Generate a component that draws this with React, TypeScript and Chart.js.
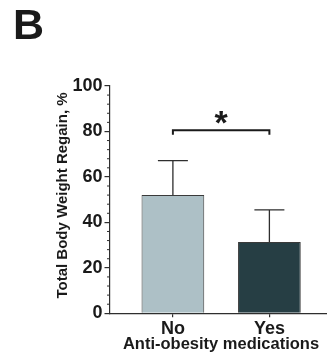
import React, { useEffect, useRef } from 'react';
import { Chart, registerables } from 'chart.js';

Chart.register(...registerables);

const panelLabel = 'B';
const categories = ['No', 'Yes'];
const meanRegain = [52.1, 31.4];
const sdUpper = [15.1, 14.1];
const barColors = ['#adc0c6', '#263e44'];
const yMajorTicks = [0, 20, 40, 60, 80, 100];
const yMinorStep = 4;
const bracketValue = 80.5;
const bracketLabel = '*';
const xTitle = 'Anti-obesity medications';
const yTitle = 'Total Body Weight Regain, %';

const W = 327;
const H = 362;
const FONT = '"Liberation Sans", Arial, sans-serif';
const INK = '#1a1a1a';
const AXIS = '#2e2e2e';

const decorPlugin = {
  id: 'decor',
  afterDatasetsDraw(chart: any) {
    const ctx = chart.ctx as CanvasRenderingContext2D;
    const xs = chart.scales.x;
    const ys = chart.scales.y;
    const area = chart.chartArea;
    ctx.save();

    // error bars (upper only)
    ctx.strokeStyle = AXIS;
    ctx.lineWidth = 1.3;
    meanRegain.forEach((m, i) => {
      const px = xs.getPixelForValue(i);
      const y0 = ys.getPixelForValue(m);
      const y1 = ys.getPixelForValue(m + sdUpper[i]);
      ctx.beginPath();
      ctx.moveTo(px, y0);
      ctx.lineTo(px, y1);
      ctx.moveTo(px - 15, y1);
      ctx.lineTo(px + 15, y1);
      ctx.stroke();
    });

    // minor y ticks
    ctx.lineWidth = 1;
    for (let v = 0; v <= 100; v += yMinorStep) {
      if (v % 20 === 0) continue;
      const py = ys.getPixelForValue(v);
      ctx.beginPath();
      ctx.moveTo(area.left - 2.5, py);
      ctx.lineTo(area.left, py);
      ctx.stroke();
    }

    // significance bracket
    const bx0 = xs.getPixelForValue(0);
    const bx1 = xs.getPixelForValue(1);
    const by = ys.getPixelForValue(bracketValue);
    const drop = 4.5;
    ctx.strokeStyle = INK;
    ctx.lineWidth = 2;
    ctx.beginPath();
    ctx.moveTo(bx0, by + drop);
    ctx.lineTo(bx0, by);
    ctx.lineTo(bx1, by);
    ctx.lineTo(bx1, by + drop);
    ctx.stroke();

    ctx.fillStyle = INK;
    ctx.font = `bold 34px ${FONT}`;
    ctx.textAlign = 'center';
    ctx.textBaseline = 'alphabetic';
    const m = ctx.measureText(bracketLabel);
    const cy = by - 12.5;
    const base = cy + (m.actualBoundingBoxAscent - m.actualBoundingBoxDescent) / 2;
    ctx.fillText(bracketLabel, (bx0 + bx1) / 2, base);

    // axis titles
    ctx.textBaseline = 'middle';
    ctx.font = `bold 16.5px ${FONT}`;
    ctx.fillText(xTitle, 221, 344);

    ctx.save();
    ctx.translate(63.3, 195.5);
    ctx.rotate(-Math.PI / 2);
    ctx.font = `bold 15px ${FONT}`;
    ctx.fillText(yTitle, 0, 0);
    ctx.restore();

    // panel label
    ctx.textBaseline = 'alphabetic';
    ctx.font = `bold 43px ${FONT}`;
    ctx.textAlign = 'left';
    const pm = ctx.measureText(panelLabel);
    ctx.fillText(panelLabel, 15 + pm.actualBoundingBoxLeft, 10 + pm.actualBoundingBoxAscent);

    ctx.restore();
  },
};

export default function App() {
  const ref = useRef<HTMLCanvasElement | null>(null);

  useEffect(() => {
    if (!ref.current) return;
    const tickFont = { family: FONT, size: 18, weight: 'bold' as const };
    const chart = new Chart(ref.current, {
      type: 'bar',
      data: {
        datasets: [
          {
            data: categories.map((_, i) => ({ x: i, y: meanRegain[i] })),
            backgroundColor: barColors,
            borderColor: '#3a3a3a',
            borderWidth: 1,
            barPercentage: 0.65,
            categoryPercentage: 1,
          },
        ],
      },
      options: {
        responsive: false,
        animation: false,
        devicePixelRatio: 1,
        layout: { padding: { top: 86, left: 0, right: 0, bottom: 0 } },
        plugins: { legend: { display: false }, tooltip: { enabled: false } },
        scales: {
          x: {
            type: 'linear',
            offset: false,
            min: -0.657,
            max: 1.597,
            afterBuildTicks: (s: any) => {
              s.ticks = categories.map((_, i) => ({ value: i }));
            },
            afterFit: (s: any) => {
              s.height = 48.7;
            },
            ticks: {
              callback: (v: any) => categories[v] ?? '',
              font: tickFont,
              color: INK,
              padding: 1.2,
              maxRotation: 0,
              autoSkip: false,
            },
            grid: { offset: false, drawOnChartArea: false, tickLength: 4, color: AXIS, lineWidth: 1.2 },
            border: { color: AXIS, width: 1.2 },
            title: { display: false },
          },
          y: {
            min: 0,
            max: 100,
            afterBuildTicks: (s: any) => {
              s.ticks = yMajorTicks.map((v) => ({ value: v }));
            },
            afterFit: (s: any) => {
              s.width = 109.5;
            },
            ticks: { font: tickFont, color: INK, padding: 2 },
            grid: { drawOnChartArea: false, tickLength: 5, color: AXIS, lineWidth: 1.2 },
            border: { color: AXIS, width: 1.2 },
            title: { display: false },
          },
        },
      } as any,
      plugins: [decorPlugin],
    });
    return () => chart.destroy();
  }, []);

  return (
    <div style={{ position: 'fixed', left: 0, top: 0, width: W, height: H, background: '#fff' }}>
      <canvas ref={ref} width={W} height={H} style={{ display: 'block', width: W, height: H }} />
    </div>
  );
}
